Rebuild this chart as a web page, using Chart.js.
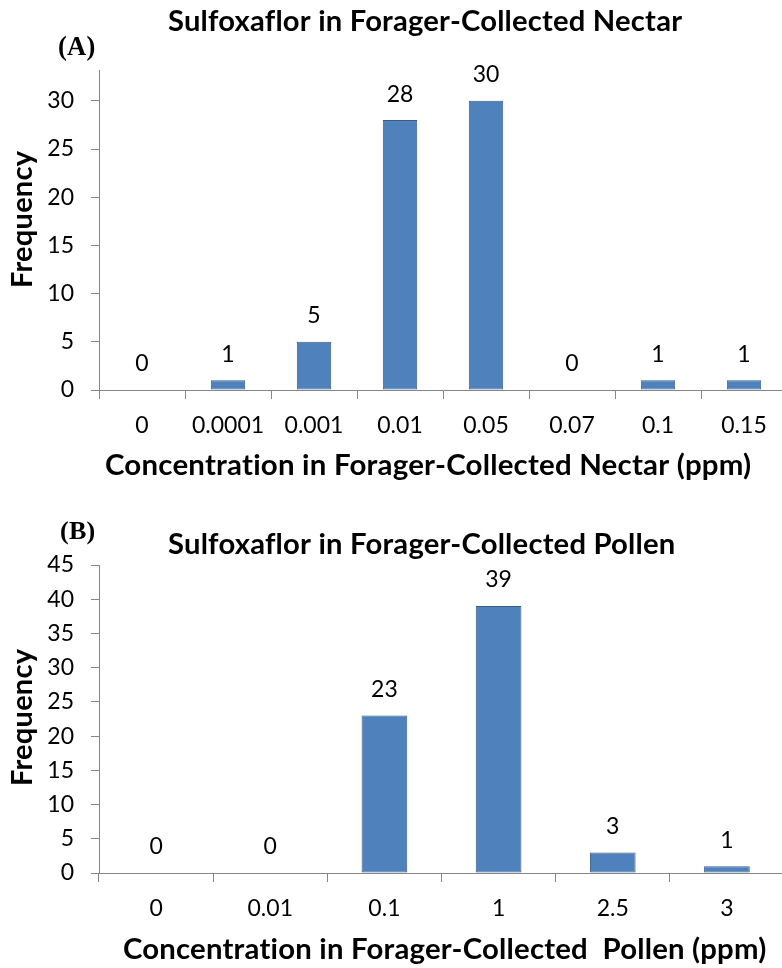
<!DOCTYPE html>
<html>
<head>
<meta charset="utf-8">
<script src="https://cdn.jsdelivr.net/npm/chart.js@4.4.1/dist/chart.umd.min.js"></script>
<style>
    html, body { margin: 0; padding: 0; background: #fff; }
    #page { position: relative; width: 782px; height: 968px; overflow: hidden; background: #fff; }
    canvas { position: absolute; left: 0; }
</style>
</head>
<body>
<div id="page">
    <canvas id="nectarChart" width="790" height="480" style="top:0"></canvas>
    <canvas id="pollenChart" width="790" height="488" style="top:480px"></canvas>
</div>
<script>
// Panel A - nectar
const nectarLabels = ['0', '0.0001', '0.001', '0.01', '0.05', '0.07', '0.1', '0.15'];
const nectarCounts = [0, 1, 5, 28, 30, 0, 1, 1];
const nectarYMax = 33.2;

// Panel B - pollen
const pollenLabels = ['0', '0.01', '0.1', '1', '2.5', '3'];
const pollenCounts = [0, 0, 23, 39, 3, 1];
const pollenYMax = 45;

const yStep = 5;

const SANS = 'Lato, "Open Sans", sans-serif';
const SERIF = '"Liberation Serif", "DejaVu Serif", serif';
const AXIS_GRAY = '#868686';

/**
 * Draw text stretched to fit between x0 and x1 on the given baseline
 */
function fitText(ctx, text, weight, family, x0, x1, y) {
    // non-zero spacing keeps Lato from joining "ti"
    if ('letterSpacing' in ctx) ctx.letterSpacing = '0.2px';
    ctx.font = `${weight} 100px ${family}`;
    const w = ctx.measureText(text).width;
    const size = 100 * (x1 - x0) / w;
    ctx.font = `${weight} ${size}px ${family}`;
    ctx.textAlign = 'left';
    ctx.textBaseline = 'alphabetic';
    ctx.fillText(text, x0, y);
}

// value labels above each bar
const barValueLabels = {
    id: 'barValueLabels',
    afterDatasetsDraw(chart) {
        const ctx = chart.ctx;
        const meta = chart.getDatasetMeta(0);
        const data = chart.data.datasets[0].data;
        ctx.save();
        ctx.fillStyle = '#000';
        ctx.font = `23px ${SANS}`;
        ctx.textAlign = 'center';
        ctx.textBaseline = 'middle';
        meta.data.forEach((bar, i) => {
            ctx.fillText(String(data[i]), bar.x, bar.y - 26);
        });
        ctx.restore();
    }
};

// titles, panel letter and axis titles
const panelText = {
    id: 'panelText',
    afterDraw(chart, args, opts) {
        const ctx = chart.ctx;
        ctx.save();
        ctx.fillStyle = '#000';
        fitText(ctx, opts.title, 'bold', SANS, opts.titleX[0], opts.titleX[1], opts.titleY);
        fitText(ctx, opts.letter, 'bold', SERIF, opts.letterX[0], opts.letterX[1], opts.letterY);
        fitText(ctx, opts.xTitle, 'bold', SANS, opts.xTitleX[0], opts.xTitleX[1], opts.xTitleY);

        ctx.translate(opts.yTitleX, opts.yTitleCenter);
        ctx.rotate(-Math.PI / 2);
        fitText(ctx, 'Frequency', 'bold', SANS, -opts.yTitleHalf, opts.yTitleHalf, 0);
        ctx.restore();
    }
};

function makeBarChart(canvasId, labels, counts, yMax, layout, text) {
    const canvas = document.getElementById(canvasId);
    const ctx = canvas.getContext('2d');
    return new Chart(ctx, {
        type: 'bar',
        data: {
            labels: labels,
            datasets: [{
                data: counts,
                backgroundColor: '#4F81BD',
                borderColor: '#385D8A',
                borderWidth: 1,
                borderSkipped: false,
                barPercentage: 0.4,
                categoryPercentage: 1.0
            }]
        },
        options: {
            responsive: false,
            animation: false,
            devicePixelRatio: 1,
            layout: {
                padding: { top: layout.top, right: layout.right, left: 0, bottom: 0 }
            },
            plugins: {
                legend: { display: false },
                tooltip: { enabled: false },
                title: { display: false },
                panelText: text
            },
            scales: {
                x: {
                    offset: true,
                    grid: {
                        offset: true,
                        drawOnChartArea: false,
                        drawTicks: true,
                        tickLength: 9,
                        color: AXIS_GRAY
                    },
                    border: { display: true, color: AXIS_GRAY, width: 1 },
                    ticks: {
                        color: '#000',
                        font: { family: SANS, size: 23 },
                        padding: 13,
                        maxRotation: 0,
                        autoSkip: false
                    },
                    afterFit(scale) { scale.height = layout.xHeight; }
                },
                y: {
                    min: 0,
                    max: yMax,
                    grid: {
                        drawOnChartArea: false,
                        drawTicks: true,
                        tickLength: 8,
                        color: AXIS_GRAY
                    },
                    border: { display: true, color: AXIS_GRAY, width: 1 },
                    ticks: {
                        stepSize: yStep,
                        color: '#000',
                        font: { family: SANS, size: 23 },
                        padding: 17
                    },
                    afterBuildTicks(scale) {
                        scale.ticks = scale.ticks.filter(t => t.value % yStep === 0);
                    },
                    afterFit(scale) { scale.width = 99; }
                }
            }
        },
        plugins: [barValueLabels, panelText]
    });
}

makeBarChart('nectarChart', nectarLabels, nectarCounts, nectarYMax,
    { top: 70, right: 3, xHeight: 90 },
    {
        title: 'Sulfoxaflor in Forager-Collected Nectar',
        titleX: [168, 677], titleY: 31,
        letter: '(A)', letterX: [58, 95], letterY: 55,
        xTitle: 'Concentration in Forager-Collected Nectar (ppm)',
        xTitleX: [105, 745], xTitleY: 475,
        yTitleX: 32, yTitleCenter: 220, yTitleHalf: 68
    });

makeBarChart('pollenChart', pollenLabels, pollenCounts, pollenYMax,
    { top: 85, right: 6, xHeight: 95 },
    {
        title: 'Sulfoxaflor in Forager-Collected Pollen',
        titleX: [168, 670], titleY: 74,
        letter: '(B)', letterX: [60, 95], letterY: 59,
        xTitle: 'Concentration in Forager-Collected  Pollen (ppm)',
        xTitleX: [123, 760], xTitleY: 479,
        yTitleX: 32, yTitleCenter: 238, yTitleHalf: 68
    });
</script>
</body>
</html>
